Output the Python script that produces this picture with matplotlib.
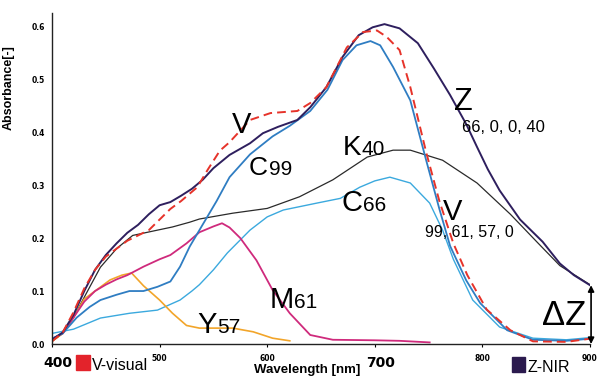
#!/usr/bin/env python3
"""Absorbance spectra of the V (visual) and Z (NIR) inks and their C/M/Y/K components."""

import matplotlib
matplotlib.use("Agg")
import matplotlib.pyplot as plt
from matplotlib.patches import Rectangle
from matplotlib.transforms import ScaledTranslation

# --- data ------------------------------------------------------------------
wl_z = [400, 410, 420, 430, 440, 450, 460, 470, 480, 490, 500, 510, 520, 530, 540, 550,
        565, 584, 596, 610, 628, 640, 655, 670, 685, 698, 709, 723, 740, 755, 770, 785,
        795, 805, 816, 835, 856, 872, 885, 900]
abs_z = [0.008, 0.022, 0.055, 0.100, 0.140, 0.168, 0.190, 0.210, 0.225, 0.245, 0.262, 0.268,
         0.280, 0.293, 0.310, 0.332, 0.357, 0.379, 0.398, 0.410, 0.423, 0.447, 0.485, 0.542,
         0.583, 0.598, 0.604, 0.596, 0.568, 0.520, 0.470, 0.415, 0.372, 0.330, 0.290, 0.235,
         0.193, 0.152, 0.130, 0.111]

wl_v = [400, 410, 420, 430, 440, 450, 460, 470, 480, 490, 500, 510, 520, 535, 545, 556,
        565, 584, 603, 628, 640, 655, 674, 689, 702, 711, 723, 733, 748, 760, 773, 786,
        804, 826, 847, 878, 900]
abs_v = [0.005, 0.022, 0.060, 0.105, 0.140, 0.165, 0.180, 0.195, 0.205, 0.215, 0.235, 0.255,
         0.270, 0.296, 0.330, 0.365, 0.381, 0.423, 0.436, 0.440, 0.455, 0.485, 0.560, 0.589,
         0.592, 0.580, 0.555, 0.485, 0.360, 0.270, 0.190, 0.130, 0.065, 0.026, 0.005, 0.004,
         0.010]

wl_c99 = [400, 410, 423, 435, 445, 460, 472, 485, 498, 510, 519, 528, 537, 553, 565, 584,
          605, 621, 640, 656, 670, 683, 696, 705, 717, 733, 748, 760, 770, 785, 798, 823,
          847, 878, 900]
abs_c99 = [0.010, 0.020, 0.050, 0.070, 0.083, 0.093, 0.100, 0.100, 0.108, 0.118, 0.146, 0.184,
           0.215, 0.270, 0.315, 0.358, 0.392, 0.412, 0.440, 0.480, 0.536, 0.564, 0.572, 0.564,
           0.523, 0.460, 0.345, 0.255, 0.185, 0.120, 0.077, 0.026, 0.008, 0.006, 0.010]

wl_c66 = [400, 420, 445, 472, 498, 519, 530, 537, 550, 563, 584, 600, 615, 646, 668, 686,
          700, 714, 733, 751, 763, 773, 791, 816, 847, 878, 900]
abs_c66 = [0.020, 0.028, 0.049, 0.058, 0.064, 0.083, 0.100, 0.112, 0.140, 0.172, 0.215, 0.240,
           0.253, 0.266, 0.275, 0.296, 0.308, 0.315, 0.304, 0.266, 0.215, 0.160, 0.083, 0.032,
           0.011, 0.008, 0.012]

wl_k40 = [400, 410, 420, 432, 445, 460, 475, 498, 512, 528, 537, 568, 600, 630, 661, 693,
          717, 733, 763, 795, 826, 851, 872, 900]
abs_k40 = [0.005, 0.020, 0.050, 0.096, 0.145, 0.180, 0.205, 0.215, 0.221, 0.230, 0.236, 0.247,
           0.256, 0.278, 0.310, 0.353, 0.366, 0.366, 0.347, 0.304, 0.245, 0.192, 0.148, 0.112]

wl_m61 = [400, 410, 420, 430, 440, 450, 460, 470, 485, 500, 510, 525, 537, 550, 558, 565,
          575, 590, 605, 621, 640, 661, 700, 723, 751]
abs_m61 = [0.010, 0.020, 0.050, 0.080, 0.100, 0.112, 0.122, 0.130, 0.146, 0.160, 0.168, 0.190,
           0.211, 0.222, 0.228, 0.220, 0.200, 0.158, 0.102, 0.058, 0.017, 0.008, 0.007, 0.006,
           0.003]

wl_y57 = [400, 410, 420, 430, 440, 454, 465, 474, 485, 500, 512, 525, 537, 568, 587, 605, 621]
abs_y57 = [0.005, 0.020, 0.050, 0.085, 0.100, 0.121, 0.130, 0.134, 0.110, 0.083, 0.058, 0.035,
           0.030, 0.030, 0.023, 0.011, 0.006]

x_ticks = [400, 500, 600, 700, 800, 900]
big_x_ticks = ["400", "700"]
y_ticks = [0.0, 0.1, 0.2, 0.3, 0.4, 0.5, 0.6]

NAVY = "#2e1f5e"
RED = "#e6332a"


def main():
    fig = plt.figure(figsize=(6, 3.76), dpi=100)
    ax = fig.add_axes([52 / 600, 32 / 376, 538 / 600, 331 / 376])

    ax.plot(wl_k40, abs_k40, color="#2a2a2a", lw=0.9)
    ax.plot(wl_c66, abs_c66, color="#3ba9de", lw=1.0)
    ax.plot(wl_y57, abs_y57, color="#f2a52a", lw=1.2)
    ax.plot(wl_m61, abs_m61, color="#cf2a7c", lw=1.3)
    ax.plot(wl_c99, abs_c99, color="#2f7dc2", lw=1.3)
    ax.plot(wl_z, abs_z, color=NAVY, lw=1.4)
    ax.plot(wl_v, abs_v, color=RED, lw=1.4, dashes=(4.5, 2.6))

    ax.set_xlim(400, 900)
    ax.set_ylim(0, 0.625)
    for side in ("top", "right"):
        ax.spines[side].set_visible(False)
    for side in ("left", "bottom"):
        ax.spines[side].set_linewidth(1.0)
        ax.spines[side].set_color("#222222")

    ax.set_yticks(y_ticks)
    ax.set_yticklabels([f"{v:.1f}" for v in y_ticks])
    ax.tick_params(axis="y", length=0, pad=5, labelsize=5.5)
    ax.set_xticks(x_ticks)
    ax.set_xticklabels([str(v) for v in x_ticks])
    ax.tick_params(axis="x", direction="out", length=2.2, width=0.8, pad=5, labelsize=5.5)
    for lab in ax.get_yticklabels() + ax.get_xticklabels():
        lab.set_fontweight("bold")
        lab.set_family("DejaVu Sans")
    shift = ScaledTranslation(6 / 100, -2 / 100, fig.dpi_scale_trans)
    for lab in ax.get_xticklabels():
        if lab.get_text() in big_x_ticks:
            lab.set_fontsize(10)
            lab.set_transform(lab.get_transform() + shift)

    ax.set_xlabel("Wavelength [nm]", family="Liberation Sans", fontweight="bold", fontsize=9.5)
    ax.xaxis.set_label_coords(0.474, -0.06)
    ax.set_ylabel("Absorbance[-]", family="Liberation Sans", fontweight="bold", fontsize=9)
    ax.yaxis.set_label_coords(-0.069, 0.776)

    # curve names: big letter followed by smaller digits on the same baseline
    renderer = fig.canvas.get_renderer()
    labels = [
        ("V", "", 567, 0.398, 21),
        ("C", "99", 583, 0.319, 19),
        ("K", "40", 670, 0.357, 20),
        ("C", "66", 669, 0.251, 21),
        ("M", "61", 602, 0.068, 21),
        ("Y", "57", 535, 0.021, 21),
        ("Z", "", 774, 0.441, 22),
        ("V", "", 763, 0.234, 21),
    ]
    for main_txt, sub_txt, x, y, size in labels:
        t = ax.text(x, y, main_txt, fontsize=size, family="Liberation Sans", va="baseline")
        if sub_txt:
            w_pt = t.get_window_extent(renderer).width * 72 / fig.dpi
            ax.annotate(sub_txt, xy=(x, y), xytext=(w_pt + 0.5, 0), textcoords="offset points",
                        fontsize=15, family="Liberation Sans", va="baseline")
    ax.text(781, 0.400, "66, 0, 0, 40", fontsize=12, family="Liberation Sans", va="baseline")
    ax.text(747, 0.202, "99, 61, 57, 0", fontsize=11.5, family="Liberation Sans", va="baseline")
    ax.text(855, 0.036, "\u0394Z", fontsize=25, family="Liberation Sans", va="baseline")

    # delta Z between the Z end point and the baseline
    ax.annotate("", xy=(901, 0), xytext=(901, abs_z[-1]), annotation_clip=False,
                arrowprops=dict(arrowstyle="<|-|>", color="black", lw=1.2,
                                shrinkA=0, shrinkB=0, mutation_scale=9))

    # colour keys under the axis
    fig.add_artist(Rectangle((76 / 600, 6 / 376), 14 / 600, 15 / 376,
                             transform=fig.transFigure, color="#e3232b"))
    fig.text(92 / 600, 6 / 376, "V-visual", fontsize=11.5, family="Liberation Sans",
             va="baseline")
    fig.add_artist(Rectangle((512 / 600, 4 / 376), 13 / 600, 15 / 376,
                             transform=fig.transFigure, color="#2b1a4e"))
    fig.text(527 / 600, 4 / 376, "Z-NIR", fontsize=11.5, family="Liberation Sans",
             va="baseline")

    fig.savefig("out.png", dpi=100)


if __name__ == "__main__":
    main()
